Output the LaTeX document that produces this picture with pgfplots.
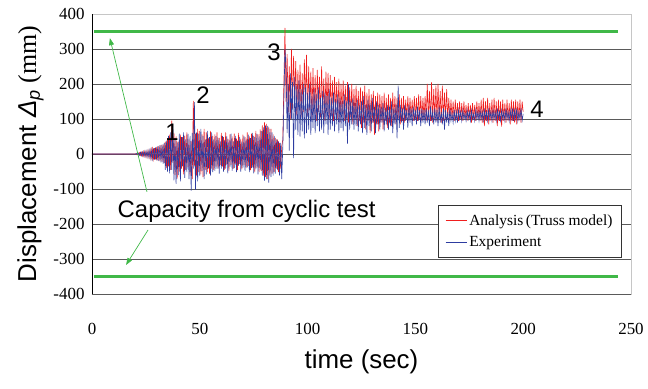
\documentclass[border=0pt]{standalone}
\usepackage{pgfplots}
\pgfplotsset{compat=1.18}
\usepackage{pgfplotstable}
\usepackage{fontspec}
\setmainfont{Liberation Serif}
\newfontfamily\arial{Liberation Sans}
\newfontfamily\tnr{Liberation Serif}
\usetikzlibrary{arrows.meta}
\definecolor{capgreen}{RGB}{64,184,72}
\definecolor{anred}{RGB}{240,30,30}
\definecolor{exblue}{RGB}{45,60,160}
\definecolor{gridgray}{RGB}{90,90,90}

\pgfplotstableread{
t A E
0 0 0
19.5 0 0
20 1 -1
20.5 -2 2
21 3 -2
21.5 -3 3
22 4 -4
22.5 -4 5
23 5 -5
23.5 -6 6
24 7 -6
24.5 -7 8
25 8 -8
25.5 -9 9
26 10 -10
26.5 -10 11
27 12 -12
27.5 -12 13
28 15 -14
28.5 -14 16
29 17 -16
29.5 -16 19
30 20 -18
30.5 -18 22
31 23 -20
31.5 -20 25
32 26 -24
32.5 -22 27
33 28 -28
33.5 -25 32
34 35 -45
34.5 -40 38
35 45 -50
35.5 -35 52
36 55 -55
36.5 -45 62
37 95 -45
37.5 -25 85
38 60 -75
38.5 -60 45
39 50 -85
39.5 -70 35
40 35 -60
40.5 -50 58
41 55 -78
41.5 -42 48
42 48 -35
42.5 -58 62
43 52 -68
43.5 -45 42
44 62 -52
44.5 -38 58
45 42 -72
45.5 -62 52
46 38 -105
46.5 -72 60
47 152 -42
47.5 -35 148
48 58 -102
48.5 -62 62
49 72 -78
49.5 -52 58
50 66 -62
50.5 -58 72
51 56 -48
51.5 -66 52
52 72 -72
52.5 -46 42
53 62 -58
53.5 -52 66
54 46 -42
54.5 -56 48
55 66 -62
55.5 -42 62
56 52 -52
56.5 -46 42
57 56 -48
57.5 -36 52
58 62 -42
58.5 -42 46
59 46 -56
59.5 -32 36
60 60 -42
60.5 -36 52
61 48 -50
61.5 -45 40
62 62 -42
62.5 -30 50
63 44 -55
63.5 -48 42
64 56 -36
64.5 -32 58
65 50 -48
65.5 -42 36
66 58 -40
66.5 -30 52
67 44 -52
67.5 -46 38
68 60 -34
68.5 -28 48
69 42 -50
69.5 -44 36
70 55 -40
70.5 -32 50
71 48 -48
71.5 -40 42
72 62 -38
72.5 -34 55
73 50 -52
73.5 -46 45
74 58 -40
74.5 -38 60
75 52 -55
75.5 -50 48
76 66 -44
76.5 -40 58
77 56 -58
77.5 -52 50
78 70 -46
78.5 -48 66
79 82 -62
79.5 -62 76
80 90 -76
80.5 -66 82
81 86 -72
81.5 -72 80
82 76 -82
82.5 -62 72
83 72 -66
83.5 -56 62
84 56 -62
84.5 -52 52
85 46 -56
85.5 -42 42
86 42 -46
86.5 -52 36
87 32 -62
87.5 -42 32
88 22 -72
88.5 40 20
89 200 150
89.5 360 300
90 150 250
90.5 285 60
91 120 200
91.5 250 10
92 100 230
92.5 300 100
93 130 205
93.5 280 -12
94 150 220
94.5 265 70
95 110 195
95.5 240 55
96 130 210
96.5 255 50
97 105 185
97.5 230 65
98 120 200
98.5 270 45
99 135 190
99.5 283 60
100 110 175
100.5 250 70
101 125 200
101.5 235 55
102 100 165
102.5 245 75
103 115 185
103.5 225 60
104 95 170
104.5 240 80
105 120 190
105.5 220 65
106 105 160
106.5 250 70
107 115 180
107.5 215 60
108 95 175
108.5 235 85
109 120 165
109.5 232 55
110 100 185
110.5 225 70
111 110 160
111.5 210 80
112 95 175
112.5 220 65
113 115 155
113.5 205 85
114 100 170
114.5 215 60
115 90 160
115.5 200 75
116 110 150
116.5 210 65
117 95 170
117.5 195 80
118 100 150
118.5 205 30
119 90 200
119.5 190 70
120 105 150
120.5 200 85
121 85 160
121.5 185 70
122 100 145
122.5 195 80
123 80 155
123.5 180 65
124 95 140
124.5 190 85
125 75 150
125.5 180 60
126 90 165
126.5 195 75
127 70 140
127.5 175 55
128 95 155
128.5 185 80
129 60 145
129.5 170 65
130 90 160
130.5 180 90
131 55 135
131.5 165 60
132 85 150
132.5 175 85
133 65 140
133.5 170 70
134 90 135
134.5 165 90
135 70 145
135.5 175 65
136 95 130
136.5 160 85
137 75 140
137.5 170 70
138 90 135
138.5 160 80
139 80 150
139.5 175 60
140 95 130
140.5 165 85
141 85 140
141.5 160 45
142 100 195
142.5 170 75
143 85 140
143.5 160 90
144 95 130
144.5 165 70
145 90 140
145.5 155 95
146 100 125
146.5 165 75
147 95 140
147.5 160 90
148 100 130
148.5 155 80
149 95 135
149.5 165 95
150 100 125
150.5 160 85
151 95 135
151.5 170 95
152 100 125
152.5 165 80
153 95 130
153.5 160 90
154 100 125
154.5 165 85
155 95 130
155.5 200 90
156 100 125
156.5 180 80
157 95 135
157.5 205 95
158 90 120
158.5 185 85
159 100 130
159.5 195 90
160 95 125
160.5 200 80
161 100 135
161.5 180 90
162 90 120
162.5 195 85
163 95 130
163.5 175 70
164 100 125
164.5 185 90
165 100 120
165.5 160 80
166 95 130
166.5 155 95
167 100 115
167.5 150 90
168 95 125
168.5 155 95
169 100 120
169.5 145 90
170 95 125
170.5 150 100
171 100 120
171.5 145 95
172 95 125
172.5 150 100
173 100 115
173.5 140 95
174 95 125
174.5 145 100
175 100 120
175.5 140 95
176 90 125
176.5 145 100
177 100 115
177.5 140 95
178 95 125
178.5 150 100
179 100 120
179.5 145 95
180 95 125
180.5 155 100
181 90 120
181.5 160 95
182 80 125
182.5 150 100
183 95 120
183.5 160 95
184 85 130
184.5 145 100
185 95 120
185.5 155 95
186 90 125
186.5 160 100
187 95 120
187.5 150 95
188 80 130
188.5 155 100
189 95 120
189.5 150 95
190 78 125
190.5 155 100
191 95 120
191.5 145 95
192 90 130
192.5 155 100
193 95 120
193.5 145 95
194 85 125
194.5 155 100
195 95 130
195.5 150 95
196 90 125
196.5 155 100
197 85 130
197.5 150 95
198 95 120
198.5 155 100
199 90 130
199.5 150 95
200 120 115
}\data

\pgfplotstableread{
t y
1 350
244 350
}\capup
\pgfplotstableread{
t y
1 -350
244 -350
}\capdown

\begin{document}
\begin{tikzpicture}
\useasboundingbox (-92bp,-95bp) rectangle (556bp,294bp);
\begin{axis}[
  at={(0,0)}, anchor=south west,
  scale only axis, width=539bp, height=280bp,
  xmin=0, xmax=250, ymin=-400, ymax=400,
  xtick={0,50,...,250}, ytick={-400,-300,...,400},
  ymajorgrids, grid style={gridgray, line width=0.8pt},
  major tick length=0pt,
  axis line style={gray!45, line width=0.8pt},
  tick label style={font={\tnr\fontsize{17}{17}\selectfont}},
  /pgf/number format/assume math mode=true,
  xticklabel style={yshift=-26bp},
  yticklabel style={xshift=-4bp},
  xlabel={time (sec)},
  xlabel style={font={\arial\fontsize{26}{28}\selectfont}, yshift=-8bp},
  ylabel={{\arial Displacement \textit{Δ}\textsubscript{\textit{p}}} (mm)},
  ylabel style={font={\tnr\fontsize{26}{28}\selectfont}, yshift=3bp},
  legend style={at={(0.983,0.318)}, anchor=north east,
    font={\tnr\fontsize{15.5}{16}\selectfont}, draw=black!80, line width=0.8pt,
    inner xsep=7bp, inner ysep=7bp, row sep=6bp},
  legend cell align=left,
  legend image code/.code={\draw[#1, line width=0.8pt] (0cm,0cm) -- (0.75cm,0cm);},
]
\addplot[capgreen, line width=3pt, forget plot] table[x=t,y=y]{\capup};
\addplot[capgreen, line width=3pt, forget plot] table[x=t,y=y]{\capdown};
\addplot[anred, line width=0.6pt] table[x=t,y=A]{\data};
\addlegendentry{Analysis\,(Truss model)}
\addplot[exblue, line width=0.6pt] table[x=t,y=E]{\data};
\addlegendentry{Experiment}
\draw[black, line width=0.8pt] (rel axis cs:0,1) -- (rel axis cs:0,0);
\draw[gridgray, line width=0.8pt] (rel axis cs:0,0) -- (rel axis cs:1,0);
\draw[capgreen, line width=0.7pt, -{Triangle[length=7bp,width=5bp]}] (axis cs:25.5,-108) -- (axis cs:8.3,331);
\draw[capgreen, line width=0.7pt, -{Triangle[length=7bp,width=5bp]}] (axis cs:26,-217) -- (axis cs:15.8,-317);
\node[font={\arial\fontsize{24}{24}\selectfont}, inner sep=0pt] at (axis cs:71.7,-163) {Capacity from cyclic test};
\node[font={\arial\fontsize{24}{24}\selectfont}, inner sep=0pt] at (axis cs:37.1,63) {1};
\node[font={\arial\fontsize{24}{24}\selectfont}, inner sep=0pt] at (axis cs:51.5,168) {2};
\node[font={\arial\fontsize{24}{24}\selectfont}, inner sep=0pt] at (axis cs:84.4,291) {3};
\node[font={\arial\fontsize{24}{24}\selectfont}, inner sep=0pt] at (axis cs:206.4,128) {4};
\end{axis}
\end{tikzpicture}
\end{document}
